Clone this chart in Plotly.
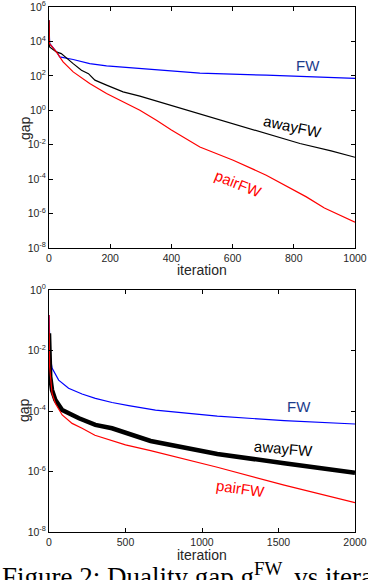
import plotly.graph_objs as go

# top panel: log10(gap) vs iteration
top_fw_it = [0, 2, 29, 35, 79, 133, 188, 242, 297, 400, 493, 710, 922, 1000]
top_fw = [5.23, 3.88, 3.29, 3.1, 2.95, 2.71, 2.58, 2.5, 2.42, 2.27, 2.16, 2.04, 1.9, 1.85]
top_away_it = [0, 2, 24, 40, 79, 106, 129, 150, 188, 242, 297, 357, 400, 493, 602, 710, 820, 922, 1000]
top_away = [5.23, 3.68, 3.39, 3.29, 2.71, 2.33, 2.13, 1.75, 1.46, 1.07, 0.82, 0.5, 0.3, -0.2, -0.77, -1.35, -1.93, -2.36, -2.73]
top_pair_it = [0, 1, 24, 46, 79, 133, 188, 242, 297, 351, 400, 493, 602, 710, 841, 900, 1000]
top_pair = [5.23, 3.88, 3.39, 2.81, 2.23, 1.55, 0.97, 0.49, 0.0, -0.58, -1.14, -2.13, -2.9, -3.77, -5.03, -5.68, -6.5]

# bottom panel: log10(gap) vs iteration
bot_fw_it = [0, 8, 20, 63, 128, 216, 303, 412, 521, 696, 1100, 1537, 2000]
bot_fw = [-0.83, -2.2, -2.58, -2.98, -3.25, -3.44, -3.58, -3.72, -3.82, -3.97, -4.17, -4.32, -4.43]
bot_away_it = [0, 8, 20, 42, 86, 196, 303, 412, 664, 1100, 1537, 2000]
bot_away = [-1.43, -2.87, -3.31, -3.64, -3.97, -4.24, -4.46, -4.57, -4.99, -5.42, -5.73, -6.04]
bot_pair_it = [0, 4, 20, 42, 86, 151, 216, 300, 500, 664, 1100, 1537, 2000]
bot_pair = [-0.83, -2.54, -3.42, -3.75, -4.13, -4.41, -4.57, -4.8, -5.12, -5.31, -5.86, -6.45, -7.03]

top_yticks = [-8, -6, -4, -2, 0, 2, 4, 6]
bot_yticks = [-8, -6, -4, -2, 0]
top_xticks = [0, 200, 400, 600, 800, 1000]
bot_xticks = [0, 500, 1000, 1500, 2000]

BLUE = '#0000ff'
RED = '#ff0000'
BLACK = '#000000'
LABEL_BLUE = '#1c3c8c'
SANS = 'Liberation Sans, Arial'
GREY_TXT = '#262626'


def pw(vals):
    return [10 ** v for v in vals]


fig = go.Figure()

series = [
    ('x', 'y', top_fw_it, top_fw, BLUE, 1.2),
    ('x', 'y', top_away_it, top_away, BLACK, 1.2),
    ('x', 'y', top_pair_it, top_pair, RED, 1.2),
    ('x2', 'y2', bot_fw_it, bot_fw, BLUE, 1.2),
    ('x2', 'y2', bot_away_it, bot_away, BLACK, 4.5),
    ('x2', 'y2', bot_pair_it, bot_pair, RED, 1.2),
]
for xa, ya, it, vals, col, w in series:
    fig.add_trace(go.Scatter(x=it, y=pw(vals), mode='lines', line={'color': col, 'width': w},
                             xaxis=xa, yaxis=ya))

axis_style = {
    'showline': True,
    'linecolor': 'black',
    'linewidth': 1,
    'mirror': 'ticks',
    'ticks': 'inside',
    'ticklen': 4,
    'tickcolor': 'black',
    'showgrid': False,
    'zeroline': False,
    'automargin': False,
    'tickfont': {'family': SANS, 'size': 10.5, 'color': GREY_TXT},
}

x_dom = [49 / 368, 355 / 368]
fig.update_layout(
    width=368, height=580,
    margin={'l': 0, 'r': 0, 't': 0, 'b': 0},
    paper_bgcolor='white', plot_bgcolor='white',
    showlegend=False,
    xaxis=dict(axis_style, domain=x_dom, anchor='y', range=[0, 1000], tickvals=top_xticks),
    yaxis=dict(axis_style, domain=[1 - 248 / 580, 1 - 7 / 580], anchor='x', type='log', range=[-8.0001, 6.0001],
               tickvals=pw(top_yticks), ticktext=[f'10<sup>{t}</sup>' for t in top_yticks],
               ticklabeloverflow='allow'),
    xaxis2=dict(axis_style, domain=x_dom, anchor='y2', range=[0, 2000], tickvals=bot_xticks),
    yaxis2=dict(axis_style, domain=[1 - 532 / 580, 1 - 290 / 580], anchor='x2', type='log', range=[-8.0001, 0.0001],
                tickvals=pw(bot_yticks), ticktext=[f'10<sup>{t}</sup>' for t in bot_yticks],
                ticklabeloverflow='allow'),
)

# axis titles (x, y are pixel centres)
for x, y, txt, ang in [(202, 270, 'iteration', 0), (15, 128, 'gap', -90),
                       (202, 555, 'iteration', 0), (14, 410, 'gap', -90)]:
    fig.add_annotation(x=x / 368, y=1 - y / 580, xref='paper', yref='paper', text=txt, showarrow=False,
                       textangle=ang, yanchor='middle', font={'family': SANS, 'size': 14, 'color': GREY_TXT})

# curve labels
label_font = {'family': SANS, 'size': 15}
labels = [
    ('x', 'y', 847, 2.62, 'FW', LABEL_BLUE, 0),
    ('x', 'y', 796, -0.95, 'awayFW', BLACK, 12),
    ('x', 'y', 618, -4.23, 'pairFW', RED, 22),
    ('x2', 'y2', 1634, -3.86, 'FW', LABEL_BLUE, 0),
    ('x2', 'y2', 1535, -5.23, 'awayFW', BLACK, 5),
    ('x2', 'y2', 1253, -6.55, 'pairFW', RED, 8),
]
for xr, yr, x, y, txt, col, ang in labels:
    fig.add_annotation(x=x, y=y, xref=xr, yref=yr, text=txt, showarrow=False, textangle=ang,
                       font=dict(label_font, color=col))

# caption, cut by the bottom edge as in the source
fig.add_annotation(x=0, y=1 - 556 / 580, xref='paper', yref='paper', xanchor='left', yanchor='top',
                   text='Figure 2: Duality gap g<sup>FW</sup><sub>t</sub> vs iterations', showarrow=False,
                   font={'family': 'Liberation Serif, Times New Roman', 'size': 27, 'color': 'black'})

# the page body has a default 8px margin; drop it so the figure fills the window
fig.write_html("out.html", config={'displayModeBar': False},
               post_script="document.body.style.margin='0';document.body.style.overflow='hidden';")
